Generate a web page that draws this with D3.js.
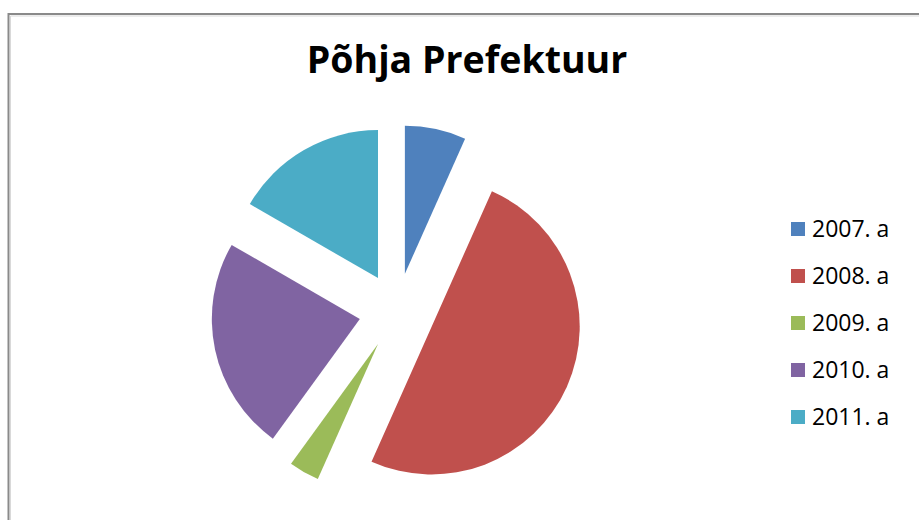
<!DOCTYPE html>
<html>
<head>
<meta charset="utf-8">
<script src="https://cdn.jsdelivr.net/npm/d3@7"></script>
<style>
  html, body { margin: 0; padding: 0; background: #fff; }
  svg { display: block; }
</style>
</head>
<body>
<svg id="chart" width="919" height="520"></svg>
<script>
const title = "Põhja Prefektuur";
const categories = ["2007. a", "2008. a", "2009. a", "2010. a", "2011. a"];
const values = [4, 30, 2, 14, 10];
const colors = ["#4F81BD", "#C0504D", "#9BBB59", "#8064A2", "#4BACC6"];

const svg = d3.select("#chart");
const W = 919, H = 520;

// chart area border (extends beyond right/bottom of view)
svg.append("rect")
  .attr("x", 8.5).attr("y", 14)
  .attr("width", W + 20).attr("height", H + 20)
  .attr("fill", "#fff")
  .attr("stroke", "#8a8a8a").attr("stroke-width", 2);
svg.append("path")
  .attr("d", `M10.5,${H + 20} V16 H${W + 20}`)
  .attr("fill", "none").attr("stroke", "#d9d9d9").attr("stroke-width", 1);

// title
svg.append("text")
  .attr("x", 467).attr("y", 73)
  .attr("text-anchor", "middle")
  .attr("font-family", "'Open Sans', sans-serif")
  .attr("font-weight", "bold")
  .attr("font-size", 37.5)
  .attr("fill", "#000")
  .text(title);

// pie
const cx = 397, cy = 311, r = 148, explode = 38;
const pie = d3.pie().sort(null).value(d => d.v);
const arcs = pie(categories.map((c, i) => ({ c, v: values[i], col: colors[i] })));
const arc = d3.arc().innerRadius(0).outerRadius(r);

const g = svg.append("g").attr("transform", `translate(${cx},${cy})`);
g.selectAll("path.slice")
  .data(arcs)
  .join("path")
  .attr("class", "slice")
  .attr("d", arc)
  .attr("fill", d => d.data.col)
  .attr("transform", d => {
    const a = (d.startAngle + d.endAngle) / 2;
    return `translate(${explode * Math.sin(a)},${-explode * Math.cos(a)})`;
  });

// legend
const legendY = d3.scalePoint().domain(categories).range([237, 425]);
const lg = svg.append("g");
const items = lg.selectAll("g.item")
  .data(categories)
  .join("g")
  .attr("class", "item")
  .attr("transform", d => `translate(0,${legendY(d)})`);
items.append("rect")
  .attr("x", 791).attr("y", -15)
  .attr("width", 14).attr("height", 14)
  .attr("fill", (d, i) => colors[i]);
items.append("text")
  .attr("x", 812).attr("y", 0)
  .attr("font-family", "'Open Sans', sans-serif")
  .attr("font-size", 23)
  .attr("fill", "#000")
  .text(d => d);
</script>
</body>
</html>
